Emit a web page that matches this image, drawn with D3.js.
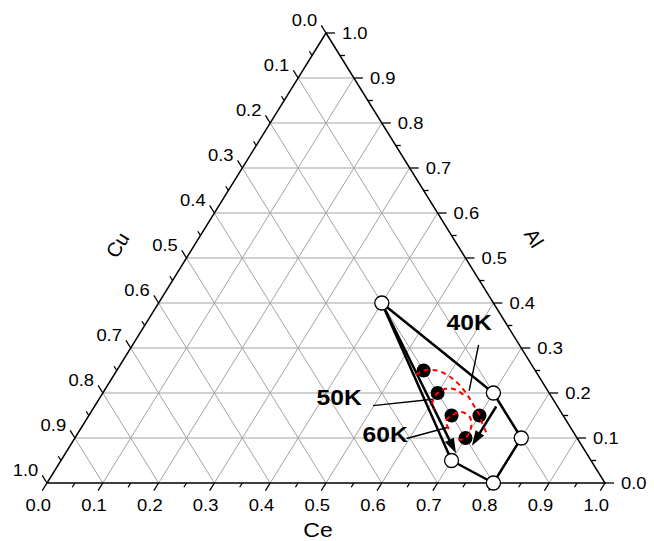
<!DOCTYPE html>
<html><head><meta charset="utf-8">
<script src="https://cdn.jsdelivr.net/npm/d3@7"></script>
<style>
html,body{margin:0;padding:0;background:#fff;}
svg{display:block;}
text{font-family:"Liberation Sans",Arial,Helvetica,sans-serif;fill:#000;}
</style></head><body>
<svg id="chart" width="654" height="541"></svg>
<script>
// Ternary Ce–Al–Cu diagram (fractions of Ce and Al; Cu = 1 - Ce - Al)
const tickValues = [0, 0.1, 0.2, 0.3, 0.4, 0.5, 0.6, 0.7, 0.8, 0.9, 1.0];
const tickLabels = ["0.0","0.1","0.2","0.3","0.4","0.5","0.6","0.7","0.8","0.9","1.0"];
const minorTicks = [0.05, 0.15, 0.25, 0.35, 0.45, 0.55, 0.65, 0.75, 0.85, 0.95];
const gridValues = [0.1, 0.2, 0.3, 0.4, 0.5, 0.6, 0.7, 0.8, 0.9];
const axisNames = ["Ce", "Al", "Cu"];

// corners of the single-phase region (open circles)
const regionCe = [0.4, 0.7, 0.8, 0.8, 0.7];
const regionAl = [0.4, 0.2, 0.1, 0.0, 0.05];

// measured alloys (filled circles)
const sampleCe = [0.55, 0.60, 0.65, 0.70, 0.70];
const sampleAl = [0.25, 0.20, 0.15, 0.15, 0.10];

// iso-Tc contours
const contour40Ce = [0.541, 0.55, 0.574, 0.599, 0.625, 0.651, 0.673, 0.70, 0.715, 0.736];
const contour40Al = [0.240, 0.25, 0.250, 0.239, 0.222, 0.200, 0.178, 0.15, 0.131, 0.107];
const contour50Ce = [0.648, 0.630, 0.612, 0.60, 0.601, 0.611];
const contour50Al = [0.196, 0.207, 0.210, 0.20, 0.180, 0.164];
const contour60Ce = [0.660, 0.646, 0.65, 0.663, 0.684, 0.698, 0.70, 0.689];
const contour60Al = [0.120, 0.138, 0.15, 0.158, 0.147, 0.124, 0.10, 0.096];

// arrows
const arrowFromCe = [0.40, 0.72];
const arrowFromAl = [0.40, 0.17];
const arrowToCe = [0.70, 0.72];
const arrowToAl = [0.066, 0.083];

// contour labels and their leader lines
const labelText = ["40K", "50K", "60K"];
const labelCe = [0.578, 0.428, 0.551];
const labelAl = [0.357, 0.191, 0.110];
const leaderFromCe = [0.620, 0.498, 0.595];
const leaderFromAl = [0.307, 0.172, 0.099];
const leaderToCe = [0.654, 0.599, 0.657];
const leaderToAl = [0.205, 0.186, 0.124];

const svg = d3.select("#chart");
const X = d3.scaleLinear().domain([0, 1]).range([47, 605]);
const Y = d3.scaleLinear().domain([0, 1]).range([483, 33]);
const P = (ce, al) => [X(ce + al / 2), Y(al)];
const STRETCH = 1.15;

// grid
const grid = svg.append("g").attr("stroke", "#a3a3a3").attr("stroke-width", 1).attr("fill", "none");
gridValues.forEach(t => {
  const segs = [
    [P(0, t), P(1 - t, t)],          // constant Al
    [P(t, 0), P(t, 1 - t)],          // constant Ce
    [P(1 - t, 0), P(0, 1 - t)]       // constant Cu
  ];
  segs.forEach(s => grid.append("line")
    .attr("x1", s[0][0]).attr("y1", s[0][1]).attr("x2", s[1][0]).attr("y2", s[1][1]));
});

// frame
const frame = [P(0, 0), P(1, 0), P(0, 1)];
svg.append("polygon").attr("points", frame.map(p => p.join(",")).join(" "))
  .attr("fill", "none").attr("stroke", "#000").attr("stroke-width", 1.5);

// ticks
const W = X(1) - X(0), H = Y(0) - Y(1);
const len = Math.hypot(W / 2, H);
const dirCe = [-(W / 2) / len, H / len];      // bottom axis, down-left
const dirCu = [-(W / 2) / len, -H / len];     // left axis, up-left
const dirAl = [1, 0];                          // right axis
const ticks = svg.append("g").attr("stroke", "#000").attr("stroke-width", 1.3);
function tick(p, d, l) {
  ticks.append("line").attr("x1", p[0]).attr("y1", p[1])
    .attr("x2", p[0] + d[0] * l).attr("y2", p[1] + d[1] * l);
  return [p[0] + d[0] * l, p[1] + d[1] * l];
}
function label(x, y, txt, anchor, size) {
  svg.append("text").attr("transform", `translate(${x},${y}) scale(${STRETCH},1)`)
    .attr("text-anchor", anchor).attr("font-size", size).text(txt);
}
minorTicks.forEach(t => {
  tick(P(t, 0), dirCe, 5);
  tick(P(1 - t, t), dirAl, 5);
  tick(P(0, 1 - t), dirCu, 5);
});
tickValues.forEach((t, i) => {
  const eCe = tick(P(t, 0), dirCe, 9);
  label(eCe[0] - 4, eCe[1] + 20, tickLabels[i], "middle", 16);
  const eAl = tick(P(1 - t, t), dirAl, 9);
  label(eAl[0] + 7, eAl[1] + 5.5, tickLabels[i], "start", 16);
  const eCu = tick(P(0, 1 - t), dirCu, 9);
  label(eCu[0] - 4, eCu[1] + 1, tickLabels[i], "end", 16);
});

// axis titles
label(318, 537, axisNames[0], "middle", 20);
svg.append("text").attr("transform", "translate(534,238) rotate(58.5)")
  .attr("text-anchor", "middle").attr("dominant-baseline", "central").attr("font-size", 20).text(axisNames[1]);
svg.append("text").attr("transform", "translate(117.5,245) rotate(-58.2)")
  .attr("text-anchor", "middle").attr("dominant-baseline", "central").attr("font-size", 20).text(axisNames[2]);

// phase region outline between the open circles
const R = 7;
const corners = regionCe.map((c, i) => P(c, regionAl[i]));
svg.append("polygon").attr("points", corners.map(p => p.join(",")).join(" "))
  .attr("fill", "none").attr("stroke", "#000").attr("stroke-width", 2.5).attr("stroke-linejoin", "round");

// arrows
arrowFromCe.forEach((c, i) => {
  const s = P(c, arrowFromAl[i]), t = P(arrowToCe[i], arrowToAl[i]);
  const dx = t[0] - s[0], dy = t[1] - s[1], d = Math.hypot(dx, dy);
  const ux = dx / d, uy = dy / d, nx = -uy, ny = ux;
  const hl = 15, hw = 5;
  const b = [t[0] - ux * hl, t[1] - uy * hl];
  svg.append("line").attr("x1", s[0]).attr("y1", s[1]).attr("x2", b[0] + ux * 2).attr("y2", b[1] + uy * 2)
    .attr("stroke", "#000").attr("stroke-width", 2.5);
  svg.append("polygon")
    .attr("points", [t, [b[0] + nx * hw, b[1] + ny * hw], [b[0] - nx * hw, b[1] - ny * hw]].map(p => p.join(",")).join(" "))
    .attr("fill", "#000");
});

// open circles
svg.append("g").selectAll("circle").data(corners).join("circle")
  .attr("cx", d => d[0]).attr("cy", d => d[1]).attr("r", R)
  .attr("fill", "#fff").attr("stroke", "#000").attr("stroke-width", 1.3);

// leader lines
labelText.forEach((_, i) => {
  const a = P(leaderFromCe[i], leaderFromAl[i]), b = P(leaderToCe[i], leaderToAl[i]);
  svg.append("line").attr("x1", a[0]).attr("y1", a[1]).attr("x2", b[0]).attr("y2", b[1])
    .attr("stroke", "#000").attr("stroke-width", 1.4);
});

// samples
svg.append("g").selectAll("circle").data(sampleCe.map((c, i) => P(c, sampleAl[i]))).join("circle")
  .attr("cx", d => d[0]).attr("cy", d => d[1]).attr("r", 7).attr("fill", "#000");

// contours
const line = d3.line().curve(d3.curveCatmullRom.alpha(0.5));
[[contour40Ce, contour40Al], [contour50Ce, contour50Al], [contour60Ce, contour60Al]].forEach(([ce, al]) => {
  svg.append("path").attr("d", line(ce.map((c, i) => P(c, al[i]))))
    .attr("fill", "none").attr("stroke", "#ff0000").attr("stroke-width", 2)
    .attr("stroke-dasharray", "5,4");
});

// contour labels
labelText.forEach((txt, i) => {
  const p = P(labelCe[i], labelAl[i]);
  svg.append("text").attr("transform", `translate(${p[0]},${p[1] + 8}) scale(1.12,1)`)
    .attr("text-anchor", "middle").attr("font-size", 22).attr("font-weight", "bold").text(txt);
});
</script>
</body></html>
